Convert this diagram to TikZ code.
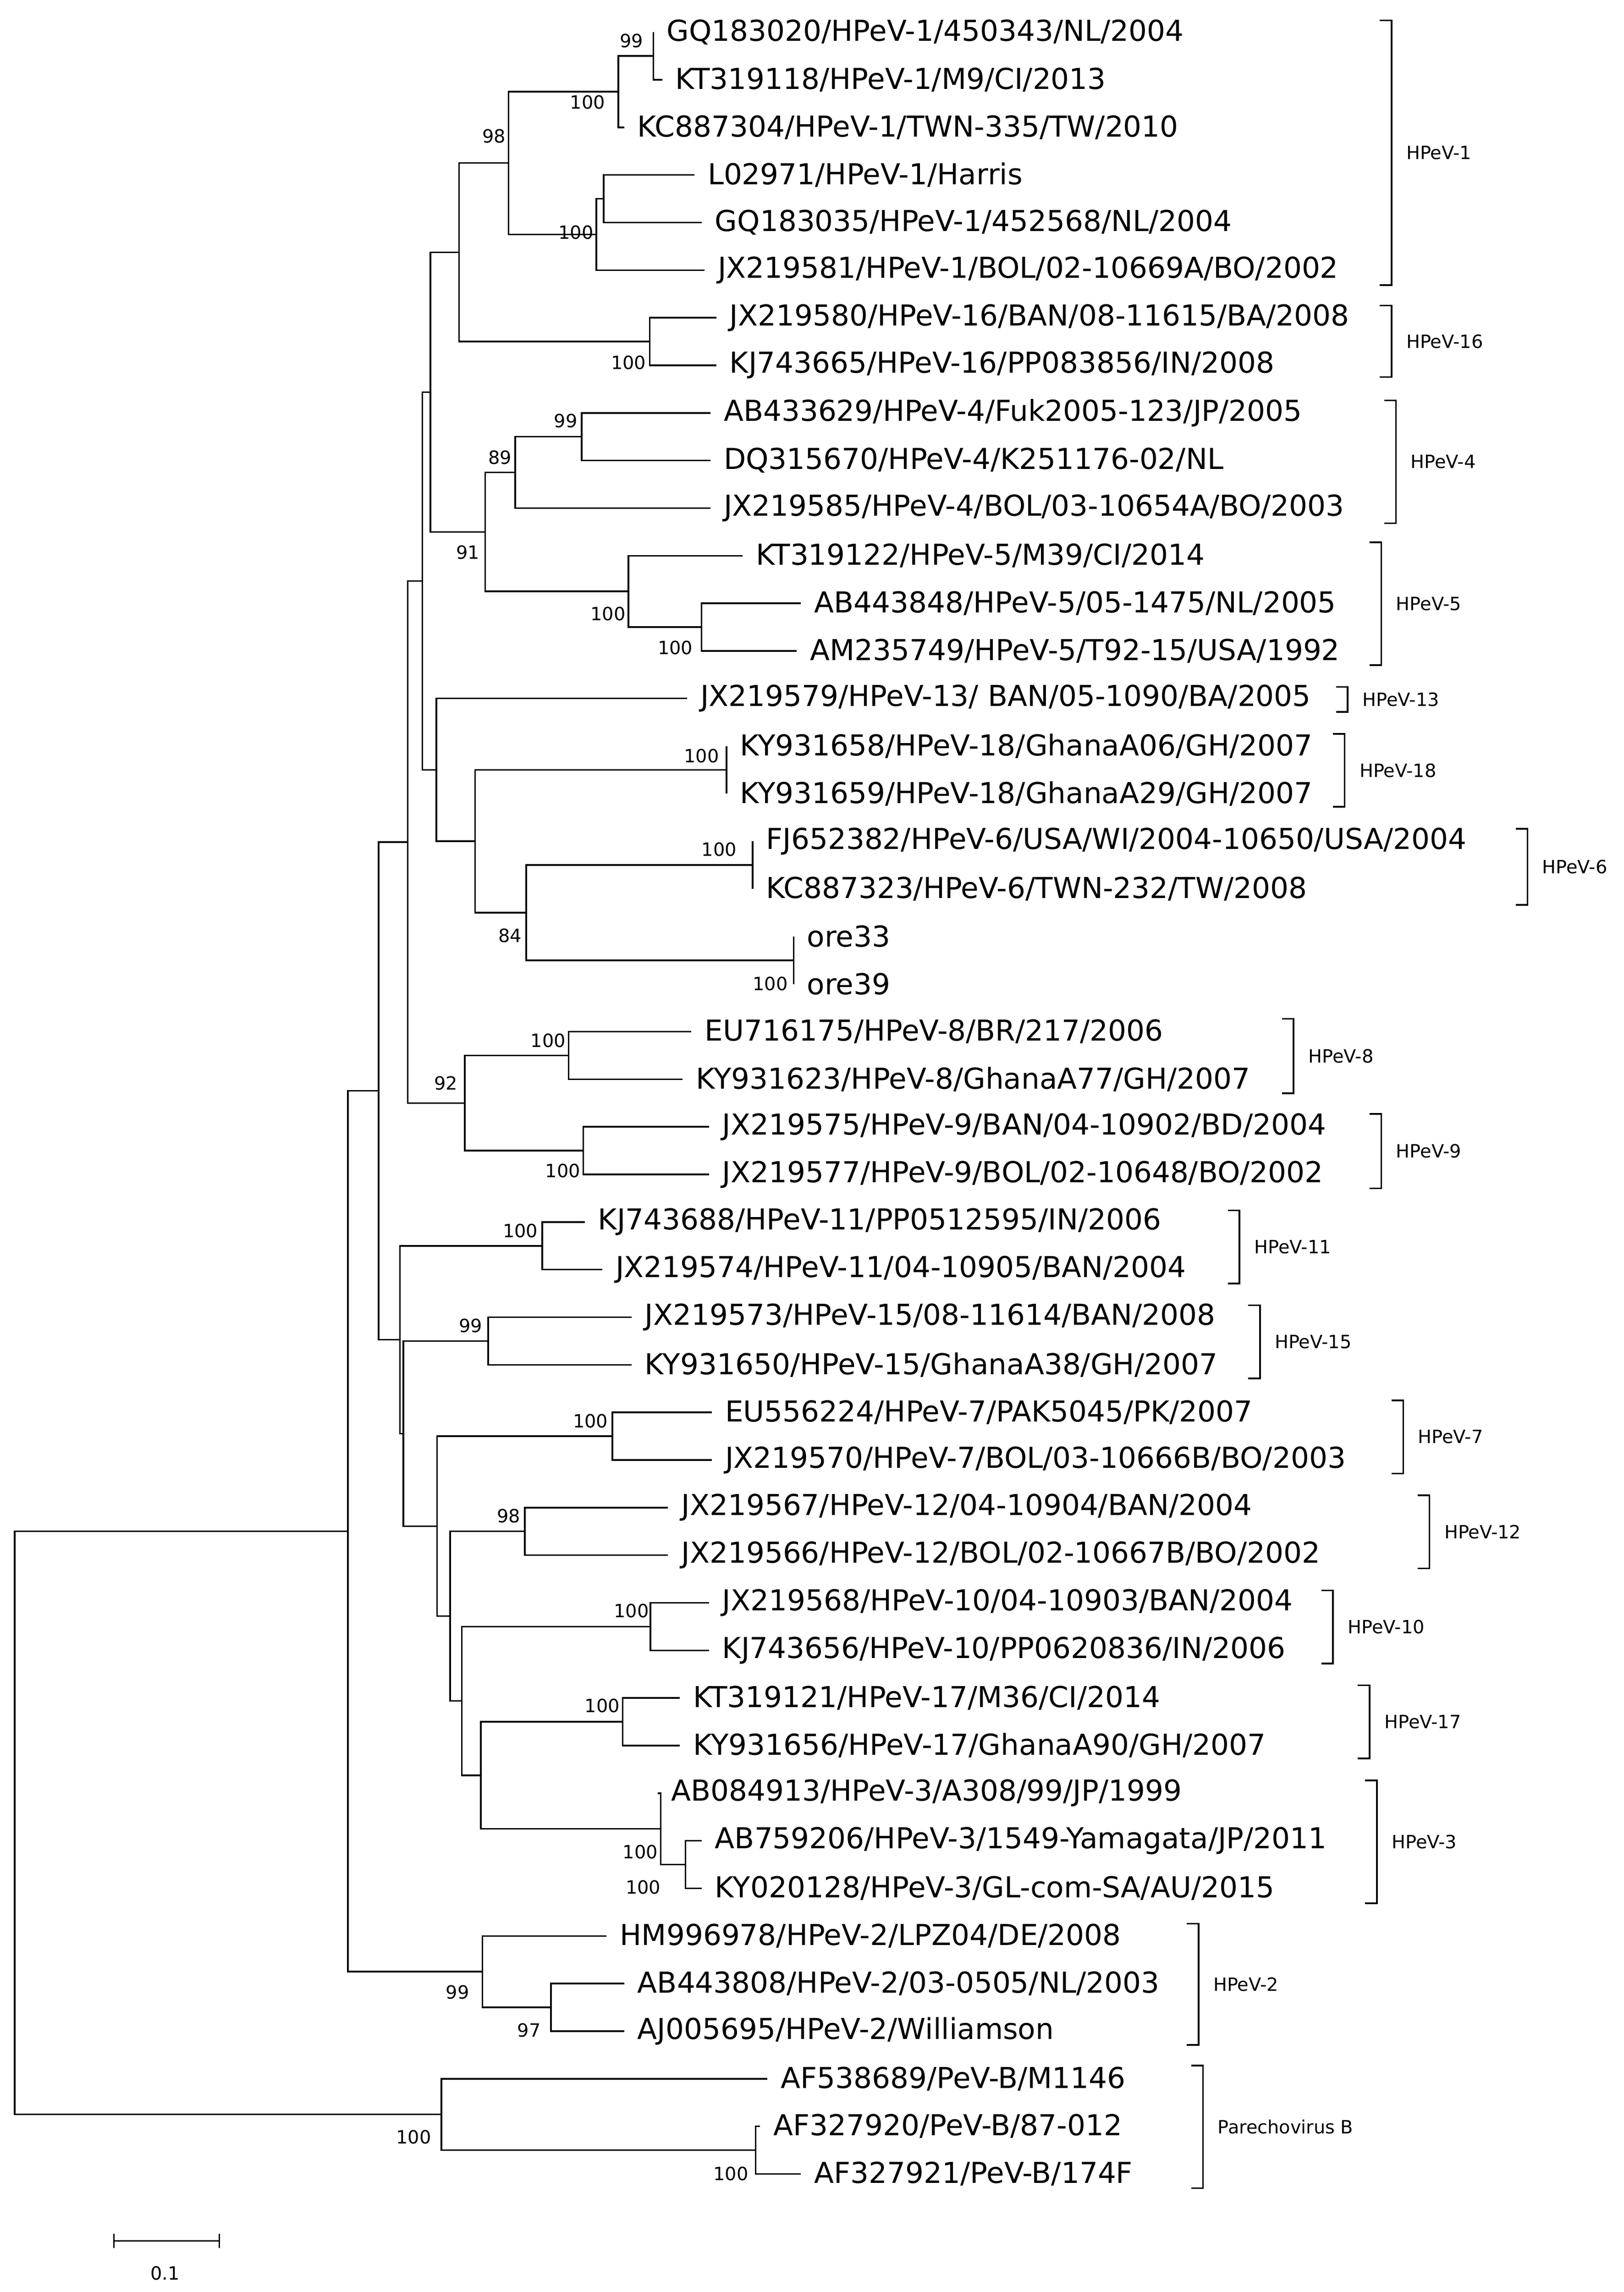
\documentclass[tikz,border=0pt]{standalone}
\usepackage{fontspec}
\setmainfont{DejaVu Sans}
\usetikzlibrary{calc}
\tikzset{br/.style={line width=1.1pt},
lf/.style={anchor=west,inner sep=0pt,xshift=9pt,font=\fontsize{19.7}{20}\selectfont},
bs/.style={inner sep=0pt,font=\fontsize{12.5}{12.5}\selectfont},
cl/.style={anchor=west,inner sep=0pt,font=\fontsize{12.5}{12.5}\selectfont}}
\newcommand\lf[3]{\coordinate (t#1) at (#2,{22+32.56*#1}); \node[lf] (n#1) at (t#1) {#3};}
\newcommand\bn[4]{\path let \p1=(#3), \p2=(#4) in coordinate (#1) at (#2pt,{(\y1+\y2)/2}); \draw[br] (#3) -| (#1) |- (#4);}
\newcommand\bsl[3]{\node[bs] at (#1,#2) {#3};}
\newcommand\clade[4]{\draw[br] ({#1-8},#2) -- (#1,#2) -- (#1,#3) -- ({#1-8},#3); \node[cl] at ({#1+10},{(#2+#3)/2}) {#4};}
\begin{document}
\begin{tikzpicture}[x=1pt,y=-1pt]
\useasboundingbox (0,0) rectangle (1110.9,1568);
\lf{0}{447}{GQ183020/HPeV-1/450343/NL/2004}
\lf{1}{453}{KT319118/HPeV-1/M9/CI/2013}
\lf{2}{427}{KC887304/HPeV-1/TWN-335/TW/2010}
\lf{3}{475}{L02971/HPeV-1/Harris}
\lf{4}{480}{GQ183035/HPeV-1/452568/NL/2004}
\lf{5}{482}{JX219581/HPeV-1/BOL/02-10669A/BO/2002}
\lf{6}{490}{JX219580/HPeV-16/BAN/08-11615/BA/2008}
\lf{7}{490}{KJ743665/HPeV-16/PP083856/IN/2008}
\lf{8}{486}{AB433629/HPeV-4/Fuk2005-123/JP/2005}
\lf{9}{486}{DQ315670/HPeV-4/K251176-02/NL}
\lf{10}{486}{JX219585/HPeV-4/BOL/03-10654A/BO/2003}
\lf{11}{508}{KT319122/HPeV-5/M39/CI/2014}
\lf{12}{548}{AB443848/HPeV-5/05-1475/NL/2005}
\lf{13}{545}{AM235749/HPeV-5/T92-15/USA/1992}
\lf{14}{470}{JX219579/HPeV-13/ BAN/05-1090/BA/2005}
\lf{15}{497}{KY931658/HPeV-18/GhanaA06/GH/2007}
\lf{16}{497}{KY931659/HPeV-18/GhanaA29/GH/2007}
\lf{17}{515}{FJ652382/HPeV-6/USA/WI/2004-10650/USA/2004}
\lf{18}{515}{KC887323/HPeV-6/TWN-232/TW/2008}
\lf{19}{543}{ore33}
\lf{20}{543}{ore39}
\lf{21}{473}{EU716175/HPeV-8/BR/217/2006}
\lf{22}{467}{KY931623/HPeV-8/GhanaA77/GH/2007}
\lf{23}{485}{JX219575/HPeV-9/BAN/04-10902/BD/2004}
\lf{24}{485}{JX219577/HPeV-9/BOL/02-10648/BO/2002}
\lf{25}{400}{KJ743688/HPeV-11/PP0512595/IN/2006}
\lf{26}{412}{JX219574/HPeV-11/04-10905/BAN/2004}
\lf{27}{432}{JX219573/HPeV-15/08-11614/BAN/2008}
\lf{28}{432}{KY931650/HPeV-15/GhanaA38/GH/2007}
\lf{29}{487}{EU556224/HPeV-7/PAK5045/PK/2007}
\lf{30}{487}{JX219570/HPeV-7/BOL/03-10666B/BO/2003}
\lf{31}{457}{JX219567/HPeV-12/04-10904/BAN/2004}
\lf{32}{457}{JX219566/HPeV-12/BOL/02-10667B/BO/2002}
\lf{33}{485}{JX219568/HPeV-10/04-10903/BAN/2004}
\lf{34}{485}{KJ743656/HPeV-10/PP0620836/IN/2006}
\lf{35}{465}{KT319121/HPeV-17/M36/CI/2014}
\lf{36}{465}{KY931656/HPeV-17/GhanaA90/GH/2007}
\lf{37}{450}{AB084913/HPeV-3/A308/99/JP/1999}
\lf{38}{480}{AB759206/HPeV-3/1549-Yamagata/JP/2011}
\lf{39}{480}{KY020128/HPeV-3/GL-com-SA/AU/2015}
\lf{40}{415}{HM996978/HPeV-2/LPZ04/DE/2008}
\lf{41}{427}{AB443808/HPeV-2/03-0505/NL/2003}
\lf{42}{427}{AJ005695/HPeV-2/Williamson}
\lf{43}{525}{AF538689/PeV-B/M1146}
\lf{44}{520}{AF327920/PeV-B/87-012}
\lf{45}{548}{AF327921/PeV-B/174F}
% internal nodes
\bn{a01}{447}{t0}{t1}
\bn{a012}{423}{a01}{t2}
\bn{a34}{413}{t3}{t4}
\bn{a345}{408}{a34}{t5}
\bn{h1}{348}{a012}{a345}
\bn{h16}{444.5}{t6}{t7}
\bn{h116}{314}{h1}{h16}
\bn{h4a}{398}{t8}{t9}
\bn{h4}{352.5}{h4a}{t10}
\bn{h5a}{480}{t12}{t13}
\bn{h5}{430}{t11}{h5a}
\bn{h45}{332}{h4}{h5}
\bn{g1}{294.5}{h116}{h45}
\bn{h18}{497}{t15}{t16}
\bn{h6}{515}{t17}{t18}
\bn{ore}{543}{t19}{t20}
\bn{h6o}{360}{h6}{ore}
\bn{h186}{325}{h18}{h6o}
\bn{g2}{298.5}{t14}{h186}
\bn{g12}{289}{g1}{g2}
\bn{h8}{389}{t21}{t22}
\bn{h9}{399}{t23}{t24}
\bn{h89}{318}{h8}{h9}
\bn{g3}{279}{g12}{h89}
\bn{h11}{371}{t25}{t26}
\bn{h15}{334}{t27}{t28}
\bn{h7}{419}{t29}{t30}
\bn{h12}{359}{t31}{t32}
\bn{h10}{445}{t33}{t34}
\bn{h17}{426}{t35}{t36}
\bn{h3a}{469}{t38}{t39}
\bn{h3}{452}{t37}{h3a}
\bn{h173}{329}{h17}{h3}
\bn{h1017}{316}{h10}{h173}
\bn{h12b}{308}{h12}{h1017}
\bn{h7b}{299}{h7}{h12b}
\bn{h15b}{276}{h15}{h7b}
\bn{g4}{273.6}{h11}{h15b}
\bn{g5}{259}{g3}{g4}
\bn{h2a}{377}{t41}{t42}
\bn{h2}{330}{t40}{h2a}
\bn{ing}{238}{g5}{h2}
\bn{pb2}{517}{t44}{t45}
\bn{pb}{302}{t43}{pb2}
\bn{root}{10}{ing}{pb}
% bootstrap
\bsl{432}{28}{99}\bsl{402}{70}{100}\bsl{394}{159}{100}\bsl{338}{93}{98}
\bsl{430}{248}{100}\bsl{387}{288}{99}\bsl{342}{313}{89}\bsl{462}{443}{100}
\bsl{416}{420}{100}\bsl{320}{378}{91}\bsl{480}{517}{100}\bsl{492}{581}{100}
\bsl{527}{673}{100}\bsl{349}{640}{84}\bsl{375}{712}{100}\bsl{385}{801}{100}
\bsl{305}{741}{92}\bsl{356}{842}{100}\bsl{322}{907}{99}\bsl{404}{972}{100}
\bsl{348}{1037}{98}\bsl{432}{1102}{100}\bsl{412}{1167}{100}\bsl{440}{1291}{100}
\bsl{438}{1267}{100}\bsl{362}{1389}{97}\bsl{313}{1363}{99}\bsl{500}{1487}{100}
\bsl{283}{1462}{100}
% clades
\clade{952}{14}{195}{HPeV-1}
\clade{952}{209}{258}{HPeV-16}
\clade{955}{274}{358}{HPeV-4}
\clade{945}{371}{455}{HPeV-5}
\clade{922}{470}{487}{HPeV-13}
\clade{920}{502}{552}{HPeV-18}
\clade{1045}{567}{619}{HPeV-6}
\clade{885}{697}{748}{HPeV-8}
\clade{945}{762}{813}{HPeV-9}
\clade{848}{828}{878}{HPeV-11}
\clade{862}{893}{943}{HPeV-15}
\clade{960}{958}{1008}{HPeV-7}
\clade{978}{1023}{1073}{HPeV-12}
\clade{912}{1088}{1138}{HPeV-10}
\clade{937}{1153}{1203}{HPeV-17}
\clade{942}{1218}{1302}{HPeV-3}
\clade{820}{1316}{1399}{HPeV-2}
\clade{823}{1413}{1497}{Parechovirus B}
% scale bar
\coordinate (sa) at (78,1533); \coordinate (sb) at (150,1533);
\draw[br] (sa) -- (sb);
\draw[br] ($(sa)+(0,-5)$) -- ($(sa)+(0,5)$);
\draw[br] ($(sb)+(0,-5)$) -- ($(sb)+(0,5)$);
\node[bs] at (113,1555) {0.1};
\end{tikzpicture}
\end{document}
